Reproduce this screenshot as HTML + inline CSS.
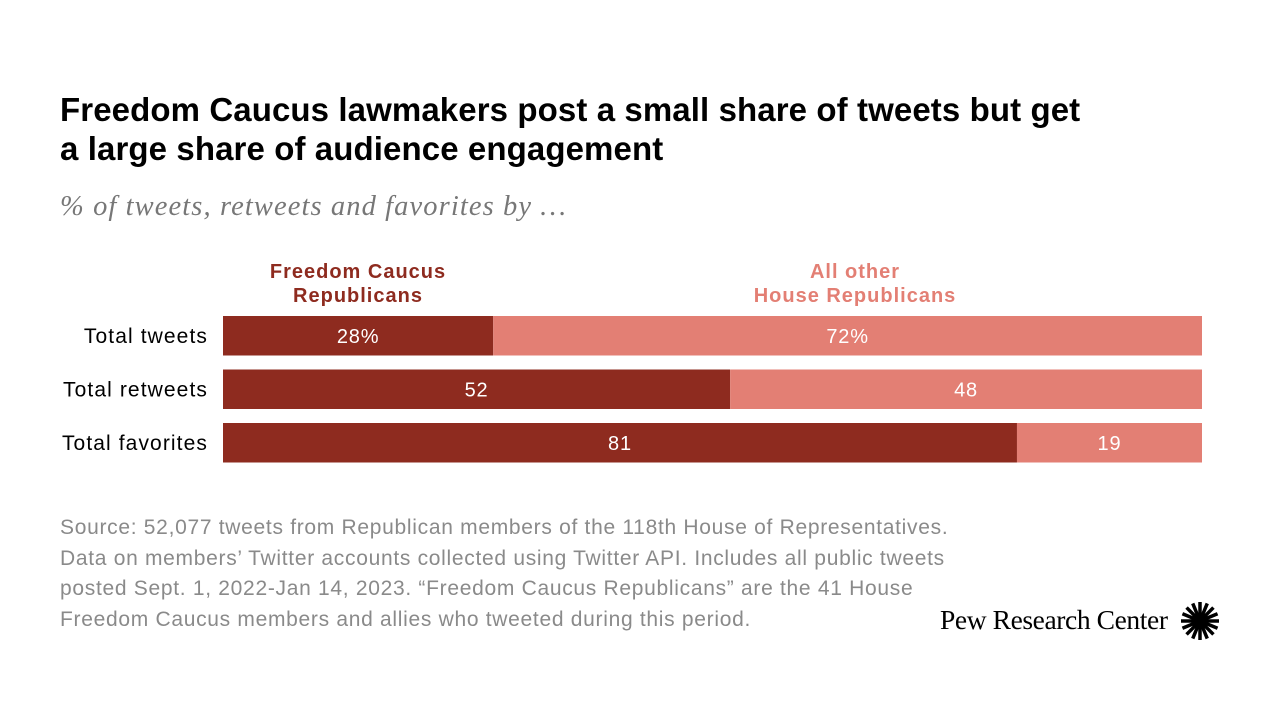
<!DOCTYPE html>
<html><head><meta charset="utf-8"><style>
body{margin:0;width:1280px;height:720px;background:#fff;font-family:"Liberation Sans",sans-serif;overflow:hidden;position:relative}
.t{position:absolute;left:60px;top:90px;font-size:33px;font-weight:bold;line-height:39px;color:#000;letter-spacing:0.1px;white-space:nowrap}
.sub{position:absolute;left:60px;top:191px;font-family:"Liberation Serif",serif;font-style:italic;font-size:28.5px;color:#777;letter-spacing:1.1px}
.src{position:absolute;left:60px;top:513px;font-size:21px;line-height:30.5px;color:#8a8a8a;width:1000px;letter-spacing:0.7px;white-space:nowrap}
.logo{position:absolute;left:940px;top:604px;font-family:"Liberation Serif",serif;font-size:27.5px;color:#000;letter-spacing:-0.4px}
</style></head><body>
<div class="t">Freedom Caucus lawmakers post a small share of tweets but get<br>a large share of audience engagement</div>
<div class="sub">% of tweets, retweets and favorites by …</div>
<svg id="chart" width="1280" height="720" style="position:absolute;left:0;top:0">
<text x="358" y="278" text-anchor="middle" font-size="20" letter-spacing="1" font-weight="bold" fill="#8e2b1f"><tspan x="358">Freedom Caucus</tspan><tspan x="358" dy="24">Republicans</tspan></text>
<text x="855" y="278" text-anchor="middle" font-size="20" letter-spacing="1" font-weight="bold" fill="#e37f74"><tspan x="855">All other</tspan><tspan x="855" dy="24">House Republicans</tspan></text>
</svg>
<div class="src">Source: 52,077 tweets from Republican members of the 118th House of Representatives.<br>Data on members’ Twitter accounts collected using Twitter API. Includes all public tweets<br>posted Sept. 1, 2022-Jan 14, 2023. “Freedom Caucus Republicans” are the 41 House<br>Freedom Caucus members and allies who tweeted during this period.</div>
<div class="logo">Pew Research Center</div>
<svg style="position:absolute;left:1180px;top:601px" width="40" height="40" id="sun"></svg>
<script>
const categories=["Total tweets","Total retweets","Total favorites"];
const freedomVals=[27.6,51.8,81.1];
const otherVals=[72.4,48.2,18.9];
const labelsF=["28%","52","81"];
const labelsO=["72%","48","19"];
const svg=document.getElementById('chart');
const NS='http://www.w3.org/2000/svg';
const x0=223,W=979;
const xs=v=>x0+v/100*W;
const ys=i=>316+i*53.5;
const BH=39.5;
function mk(tag,a){const e=document.createElementNS(NS,tag);for(const k in a)e.setAttribute(k,a[k]);svg.appendChild(e);return e;}
categories.forEach((c,i)=>{
 const y=ys(i);
 const l=mk('text',{x:208,y:y+BH/2+7,'text-anchor':'end','font-size':21,'letter-spacing':1.1,fill:'#000'});l.textContent=c;
 
 
 const b1=mk('rect',{x:xs(0),y:y,width:xs(freedomVals[i])-xs(0),height:BH,fill:'#8e2b1f'});
 
 
 const b2=mk('rect',{x:xs(freedomVals[i]),y:y,width:xs(freedomVals[i]+otherVals[i])-xs(freedomVals[i]),height:BH,fill:'#e37f74'});
 
 
 const t1=mk('text',{x:(xs(0)+xs(freedomVals[i]))/2,y:y+BH/2+7,'text-anchor':'middle','font-size':20,'letter-spacing':0.8,fill:'#fff'});t1.textContent=labelsF[i];
 
 
 const t2=mk('text',{x:(xs(freedomVals[i])+xs(freedomVals[i]+otherVals[i]))/2,y:y+BH/2+7,'text-anchor':'middle','font-size':20,'letter-spacing':0.8,fill:'#fff'});t2.textContent=labelsO[i];
 
 
});
const sun=document.getElementById('sun');
for(let k=0;k<16;k++){const a=k*Math.PI/8;const p=document.createElementNS(NS,'line');
p.setAttribute('x1',20+5*Math.cos(a));p.setAttribute('y1',20+5*Math.sin(a));p.setAttribute('x2',20+19*Math.cos(a));p.setAttribute('y2',20+19*Math.sin(a));
p.setAttribute('stroke','#000');p.setAttribute('stroke-width','3.5');sun.appendChild(p);}
const c=document.createElementNS(NS,'circle');c.setAttribute('cx',20);c.setAttribute('cy',20);c.setAttribute('r',6);sun.appendChild(c);
</script>
</body></html>
